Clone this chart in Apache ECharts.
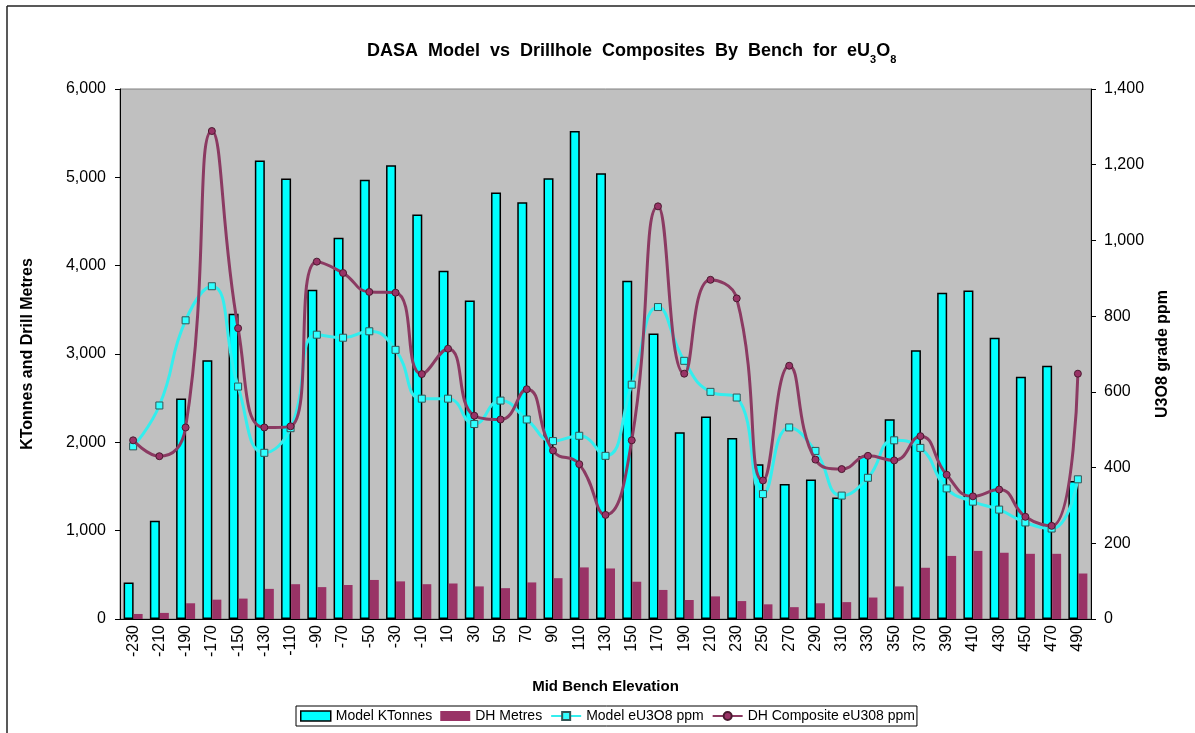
<!DOCTYPE html>
<html>
<head>
<meta charset="utf-8">
<script src="https://cdn.jsdelivr.net/npm/echarts@6/dist/echarts.min.js"></script>
<style>
    html, body { margin: 0; padding: 0; background: #fff; }
    #main { width: 1195px; height: 733px; }
</style>
</head>
<body>
<div id="main"></div>
<script>
// 台阶中点高程
var benches = ['-230', '-210', '-190', '-170', '-150', '-130', '-110', '-90', '-70', '-50', '-30', '-10',
    '10', '30', '50', '70', '90', '110', '130', '150', '170', '190', '210', '230',
    '250', '270', '290', '310', '330', '350', '370', '390', '410', '430', '450', '470', '490'];

var modelKTonnes = [414, 1112, 2495, 2930, 3456, 5190, 4986, 3728, 4316, 4974, 5136, 4580,
    3943, 3606, 4828, 4718, 4990, 5525, 5047, 3830, 3233, 2114, 2292, 2049,
    1753, 1529, 1578, 1375, 1846, 2260, 3043, 3692, 3720, 3185, 2742, 2868, 1562];

var dhMetres = [57, 69, 178, 219, 231, 341, 394, 361, 385, 442, 426, 394,
    402, 369, 349, 414, 462, 584, 572, 422, 329, 215, 256, 203,
    166, 134, 178, 191, 243, 369, 580, 714, 771, 750, 738, 738, 515];

var modelPpm = [456, 564, 789, 879, 614, 439, 504, 751, 743, 760, 711, 582,
    582, 515, 577, 527, 470, 484, 431, 619, 824, 682, 600, 585,
    330, 506, 444, 326, 373, 472, 452, 345, 310, 289, 255, 239, 369];

var dhPpm = [472, 430, 506, 1289, 768, 506, 509, 944, 914, 864, 862, 647,
    714, 537, 527, 607, 445, 409, 275, 472, 1090, 648, 896, 847,
    366, 669, 421, 396, 431, 419, 483, 381, 324, 342, 270, 246, 648];

var font = 'Liberation Sans, Arial, sans-serif';

var myChart = echarts.init(document.getElementById('main'));
myChart.setOption({
    backgroundColor: '#fff',
    animation: false,
    textStyle: { fontFamily: font },
    title: {
        text: '{a|DASA  Model  vs  Drillhole  Composites  By  Bench  for  eU}{s|3}{a|O}{s|8}',
        left: 362,
        top: 33,
        textStyle: {
            rich: {
                a: { fontFamily: font, fontSize: 18, fontWeight: 'bold', color: '#000', lineHeight: 22, verticalAlign: 'bottom' },
                s: { fontFamily: font, fontSize: 11, fontWeight: 'bold', color: '#000', lineHeight: 22, verticalAlign: 'bottom', padding: [0, 0, -5, 0] }
            }
        }
    },
    graphic: [
        { type: 'line', shape: { x1: 7, y1: 6, x2: 1195, y2: 6 }, style: { stroke: '#222', lineWidth: 1.5 } },
        { type: 'line', shape: { x1: 7, y1: 6, x2: 7, y2: 733 }, style: { stroke: '#222', lineWidth: 1.5 } }
    ],
    grid: {
        left: 120,
        right: 104,
        top: 89,
        bottom: 114,
        show: true,
        backgroundColor: '#C0C0C0',
        borderColor: '#808080',
        borderWidth: 1
    },
    legend: {
        left: 296,
        top: 706,
        padding: [3, 2, 3, 4],
        itemGap: 8,
        itemWidth: 30,
        itemHeight: 10,
        borderColor: '#000',
        borderWidth: 1,
        borderRadius: 0,
        textStyle: { fontFamily: font, fontSize: 14, color: '#000' },
        data: [
            { name: 'Model KTonnes', icon: 'rect', itemStyle: { borderColor: '#000', borderWidth: 1.5 } },
            { name: 'DH Metres', icon: 'rect' },
            { name: 'Model eU3O8 ppm' },
            { name: 'DH Composite eU308 ppm' }
        ]
    },
    xAxis: {
        type: 'category',
        data: benches,
        name: 'Mid Bench Elevation',
        nameLocation: 'middle',
        nameGap: 60,
        nameTextStyle: { fontFamily: font, fontSize: 15, fontWeight: 'bold', color: '#000' },
        axisLine: { lineStyle: { color: '#000' } },
        axisTick: { alignWithLabel: false, length: 5, lineStyle: { color: '#000' } },
        axisLabel: { rotate: 90, color: '#000', fontSize: 16, margin: 6, interval: 0 },
        splitLine: { show: false }
    },
    yAxis: [{
        type: 'value',
        min: 0,
        max: 6000,
        interval: 1000,
        name: 'KTonnes and Drill Metres',
        nameLocation: 'middle',
        nameGap: 84,
        nameTextStyle: { fontFamily: font, fontSize: 16, fontWeight: 'bold', color: '#000' },
        axisLine: { show: true, lineStyle: { color: '#000' } },
        axisTick: { show: true, length: 5, lineStyle: { color: '#000' } },
        axisLabel: {
            color: '#000',
            fontSize: 16,
            margin: 14,
            formatter: function (v) { return v.toLocaleString('en-US'); }
        },
        splitLine: { show: false }
    }, {
        type: 'value',
        min: 0,
        max: 1400,
        interval: 200,
        name: 'U3O8 grade ppm',
        nameLocation: 'middle',
        nameGap: 64,
        nameTextStyle: { fontFamily: font, fontSize: 16, fontWeight: 'bold', color: '#000' },
        axisLine: { show: true, lineStyle: { color: '#000' } },
        axisTick: { show: true, length: 5, lineStyle: { color: '#000' } },
        axisLabel: {
            color: '#000',
            fontSize: 16,
            margin: 13,
            formatter: function (v) { return v.toLocaleString('en-US'); }
        },
        splitLine: { show: false }
    }],
    series: [{
        name: 'Model KTonnes',
        type: 'bar',
        data: modelKTonnes,
        barWidth: 10,
        barGap: '0%',
        itemStyle: { color: '#00FFFF', borderColor: '#000', borderWidth: 1.5 }
    }, {
        name: 'DH Metres',
        type: 'bar',
        data: dhMetres,
        barWidth: 9,
        itemStyle: { color: '#993366' }
    }, {
        name: 'Model eU3O8 ppm',
        type: 'line',
        yAxisIndex: 1,
        data: modelPpm,
        smooth: 0.5,
        symbol: 'rect',
        symbolSize: 7,
        lineStyle: { color: '#33EEEE', width: 3 },
        itemStyle: { color: '#33FFFF', borderColor: '#335555', borderWidth: 1 },
        z: 3
    }, {
        name: 'DH Composite eU308 ppm',
        type: 'line',
        yAxisIndex: 1,
        data: dhPpm,
        smooth: 0.5,
        symbol: 'circle',
        symbolSize: 7,
        lineStyle: { color: '#8B3A62', width: 3 },
        itemStyle: { color: '#993366', borderColor: '#4a1a30', borderWidth: 1 },
        z: 4
    }]
});
</script>
</body>
</html>
